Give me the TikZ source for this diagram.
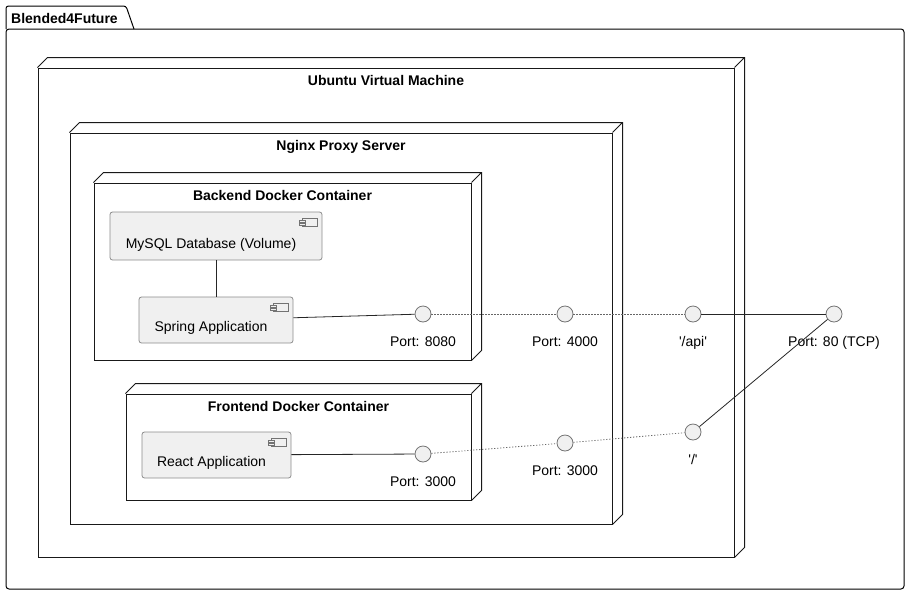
\documentclass[tikz,border=0pt]{standalone}
\usepackage{fontspec}
\setmainfont{Liberation Sans}

\begin{document}
\begin{tikzpicture}[x=1pt,y=-1pt,
        font=\fontsize{14}{16}\selectfont,
        every label/.style={inner sep=0pt},
        box/.style={draw=black!90,line width=1pt,inner sep=0pt},
        title/.style={font=\fontsize{14}{16}\selectfont\bfseries,anchor=north,yshift=-8pt},
        comp/.style={draw=black!45,fill=black!6,rounded corners=2.5pt,line width=0.8pt,
            inner sep=2pt,text height=22pt,text depth=0pt,execute at end node={\hspace*{10pt}}},
        port/.style={circle,draw=black!55,fill=black!6,line width=0.8pt,minimum size=16pt,
            inner sep=0pt},
        portname/.style={anchor=north,yshift=-14pt},
        link/.style={line width=0.8pt,black!85},
        dots/.style={line width=0.8pt,black!60,dash pattern=on 1.2pt off 1.8pt}
    ]
    \useasboundingbox (0,0) rectangle (910,595);

    \draw[line width=1pt,rounded corners=2.5pt] (6,29) -- (6,6) -- (126,6) -- (134,29);
    \draw[line width=1pt,rounded corners=3pt] (6,29) rectangle (904,589);
    \node[font=\fontsize{14}{16}\selectfont\bfseries,inner sep=0pt,anchor=west] (pkg) at (11,18.5) {Blended4Future};

    \node[box,minimum width=696pt,minimum height=489pt,label={[title]north:Ubuntu Virtual Machine}] (vm) at (386,312.5) {};
    \node[box,minimum width=542pt,minimum height=391pt,label={[title]north:Nginx Proxy Server}] (nginx) at (341,328.5) {};
    \node[box,minimum width=377pt,minimum height=177pt,label={[title]north:Backend Docker Container}] (backend) at (282.5,271.5) {};
    \node[box,minimum width=345pt,minimum height=106pt,label={[title]north:Frontend Docker Container}] (frontend) at (298.5,447) {};
    \foreach \n in {vm,nginx,backend,frontend}
        \draw[line width=1pt,black!90] (\n.north west) -- ++(10,-10) -| ([shift={(10,-10)}]\n.south east) -- (\n.south east)
            (\n.north east) -- ++(10,-10);

    \node[comp,minimum width=212pt,minimum height=48pt,text height=24pt] (mysql) at (216,236) {MySQL Database (Volume)};
    \node[comp,minimum width=154pt,minimum height=46pt] (spring) at (216,320) {Spring Application};
    \node[comp,minimum width=149pt,minimum height=46pt] (react) at (216.5,455) {React Application};
    \foreach \n in {mysql,spring,react} {
        \draw[black!55,line width=0.6pt] ([shift={(-20,7)}]\n.north east) rectangle ++(15,8);
        \draw[black!55,fill=black!6,line width=0.6pt] ([shift={(-23,8.5)}]\n.north east) rectangle ++(6,2)
            ([shift={(-23,11.5)}]\n.north east) rectangle ++(6,2);
    }

    \node[port,label={[portname]south:Port: 8080}] (p8080) at (423,314) {};
    \node[port,label={[portname]south:Port: 4000}] (p4000) at (565,314) {};
    \node[port,label={[portname]south:\textquotesingle/api\textquotesingle}] (papi) at (693,314) {};
    \node[port,label={[portname]south:Port: 80 (TCP)}] (p80) at (834,314) {};
    \node[port,label={[portname]south:Port: 3000}] (p3000in) at (423,454) {};
    \node[port,label={[portname]south:Port: 3000}] (p3000out) at (565,443) {};
    \node[port,label={[portname]south:\textquotesingle/\textquotesingle}] (proot) at (693,432) {};

    \draw[link] (mysql) -- (spring);
    \draw[link] (spring) -- (p8080);
    \draw[link] (react) -- (p3000in);
    \draw[dots] (p8080) -- (p4000) -- (papi);
    \draw[dots] (p3000in) -- (p3000out) -- (proot);
    \draw[link] (papi) -- (p80);
    \draw[link] (proot) -- (p80);
\end{tikzpicture}
\end{document}
